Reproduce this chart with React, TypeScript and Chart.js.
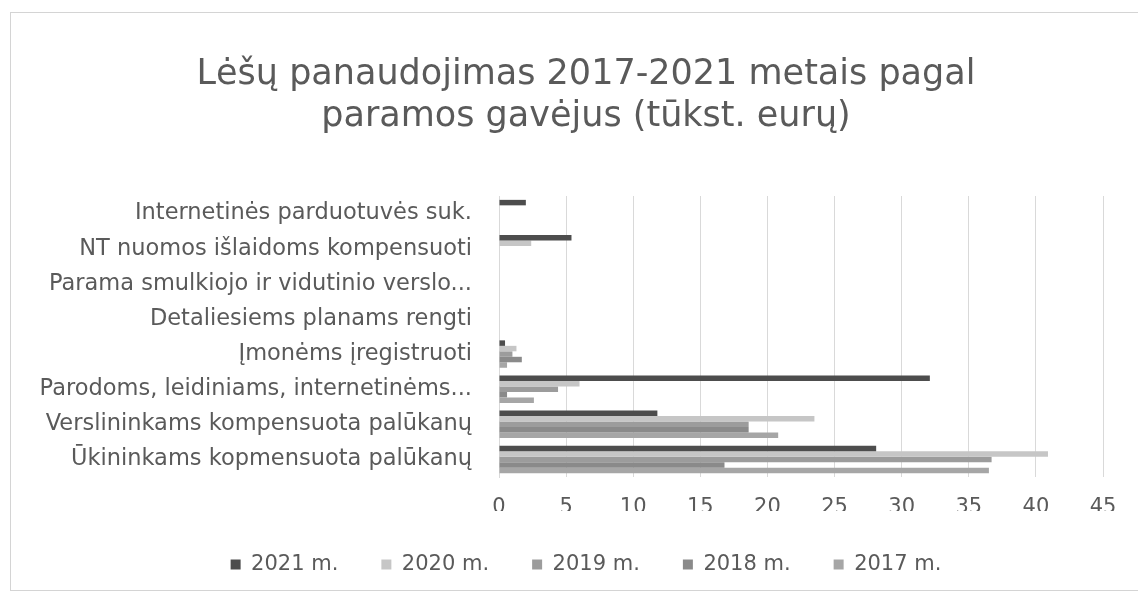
import React, { useEffect, useRef } from "react";
import { Chart, registerables } from "chart.js";

Chart.register(...registerables);

const categories = [
  "Internetinės parduotuvės suk.",
  "NT nuomos išlaidoms kompensuoti",
  "Parama smulkiojo ir vidutinio verslo...",
  "Detaliesiems planams rengti",
  "Įmonėms įregistruoti",
  "Parodoms, leidiniams, internetinėms...",
  "Verslininkams kompensuota palūkanų",
  "Ūkininkams kopmensuota palūkanų",
];

const seriesNames = ["2021 m.", "2020 m.", "2019 m.", "2018 m.", "2017 m."];

const values2021 = [2.0, 5.4, 0, 0, 0.45, 32.1, 11.8, 28.1];
const values2020 = [0, 2.4, 0, 0, 1.3, 6.0, 23.5, 40.9];
const values2019 = [0, 0, 0, 0, 1.0, 4.4, 18.6, 36.7];
const values2018 = [0, 0, 0, 0, 1.7, 0.6, 18.6, 16.8];
const values2017 = [0, 0, 0, 0, 0.6, 2.6, 20.8, 36.5];

const xTicks = [0, 5, 10, 15, 20, 25, 30, 35, 40, 45];

const titleLines = [
  "Lėšų panaudojimas 2017-2021 metais pagal",
  "paramos gavėjus (tūkst. eurų)",
];

const colors = ["#4d4d4d", "#c6c6c6", "#9c9c9c", "#8a8a8a", "#a6a6a6"];

// widen the y-axis label clip area to the canvas edge after layout
const widenYLabels = {
  id: "widenYLabels",
  afterLayout(chart: any) {
    const y = chart.scales.y;
    if (y) {
      y.left = 0;
    }
  },
};

export default function App() {
  const ref = useRef<HTMLCanvasElement | null>(null);

  useEffect(() => {
    if (!ref.current) return;
    const allValues = [values2021, values2020, values2019, values2018, values2017];
    const font = "'DejaVu Sans', sans-serif";
    const textColor = "#5a5a5a";
    const chart = new Chart(ref.current, {
      type: "bar",
      data: {
        labels: categories,
        datasets: seriesNames.map((name, i) => ({
          label: name,
          data: allValues[i],
          backgroundColor: colors[i],
          borderWidth: 0,
          categoryPercentage: 0.78,
          barPercentage: 1.0,
        })),
      },
      plugins: [widenYLabels],
      options: {
        indexAxis: "y",
        animation: false,
        responsive: false,
        layout: { padding: { left: 69, right: 35, top: 30, bottom: 8 } },
        plugins: {
          title: {
            display: true,
            text: titleLines,
            color: textColor,
            font: { family: font, size: 35, weight: "normal", lineHeight: 1.2 },
            padding: { top: 24, bottom: 58 },
          },
          legend: {
            position: "bottom",
            labels: {
              color: textColor,
              font: { family: font, size: 21 },
              boxWidth: 10,
              boxHeight: 10,
              padding: 43,
            },
          },
          tooltip: { enabled: false },
        },
        scales: {
          x: {
            min: 0,
            max: 45,
            afterBuildTicks: (scale: any) => {
              scale.ticks = xTicks.map((v) => ({ value: v }));
            },
            afterFit: (scale: any) => {
              scale.height = 34;
            },
            grid: { color: "#d9d9d9", drawTicks: false },
            border: { display: false },
            ticks: {
              color: textColor,
              font: { family: font, size: 21 },
              padding: 18,
            },
          },
          y: {
            afterFit: (scale: any) => {
              scale.width = 430;
            },
            grid: { display: false, drawTicks: false },
            border: { display: true, color: "#d9d9d9" },
            ticks: {
              color: textColor,
              font: { family: font, size: 22.5 },
              padding: 27,
              autoSkip: false,
            },
          },
        },
      },
    });
    return () => chart.destroy();
  }, []);

  return (
    <div style={{ position: "fixed", left: 0, top: 0, width: 1138, height: 593, background: "#fff" }}>
      <div
        style={{
          position: "absolute",
          left: 10,
          top: 12,
          width: 1140,
          height: 577,
          borderLeft: "1px solid #d4d4d4",
          borderTop: "1px solid #d4d4d4",
          borderBottom: "1px solid #d4d4d4",
        }}
      />
      <canvas ref={ref} width={1138} height={593} style={{ position: "absolute", left: 0, top: 0 }} />
    </div>
  );
}
